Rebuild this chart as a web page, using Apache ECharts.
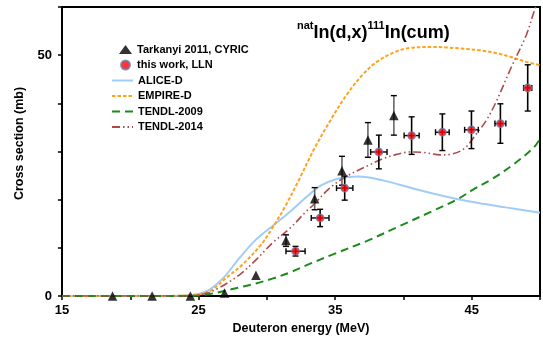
<!DOCTYPE html>
<html>
<head>
<meta charset="utf-8">
<script src="https://cdn.jsdelivr.net/npm/echarts@6/dist/echarts.min.js"></script>
<style>
html,body{margin:0;padding:0;background:#fff;}
#chart{width:543px;height:340px;}
</style>
</head>
<body>
<div id="chart"></div>
<script>
// ---- Data ----
const xTickLabels = [15, 25, 35, 45];
const yTickLabels = [0, 50];

// Tarkanyi 2011, CYRIC: energy (MeV), cross section (mb), error (mb)
const tarkE   = [18.7, 21.6, 24.4, 26.9, 29.2, 31.4, 33.5, 35.5, 37.4, 39.3];
const tarkXS  = [0, 0, 0, 0.6, 4.3, 11.5, 20.2, 26.0, 32.4, 37.5];
const tarkErr = [0, 0, 0, 0, 0, 1.2, 2.3, 3.0, 3.6, 4.1];

// This work, LLN: energy, cross section, energy error, cross-section error
const llnE    = [32.1, 33.9, 35.7, 38.2, 40.6, 42.85, 44.98, 47.1, 49.1];
const llnXS   = [9.3, 16.2, 22.4, 29.9, 33.3, 34.0, 34.5, 35.8, 43.2];
const llnEErr = [0.7, 0.65, 0.6, 0.6, 0.55, 0.5, 0.5, 0.4, 0.3];
const llnXErr = [1.0, 1.8, 2.5, 3.5, 3.9, 3.8, 3.9, 4.1, 4.8];

// ALICE-D
const aliceE  = [15, 22, 23.5, 24.5, 25.2, 25.8, 26.8, 28.0, 29.2, 30.4, 31.7, 33.0, 34.0, 35.0, 36.0, 36.6, 37.5, 38.5, 40.0, 41.0, 42.7, 44.0, 45.5, 47.5, 50];
const aliceXS = [0, 0, 0.05, 0.2, 0.6, 1.3, 3.7, 7.9, 11.7, 14.5, 17.5, 20.8, 23.0, 24.2, 24.7, 24.8, 24.6, 24.0, 22.9, 22.1, 20.9, 20.1, 19.3, 18.4, 17.3];

// EMPIRE-D
const empireE  = [15, 22, 23.5, 24.5, 25.3, 26.0, 27.0, 28.2, 29.5, 30.4, 31.4, 32.4, 33.4, 34.6, 35.8, 37.0, 38.1, 39.5, 40.5, 42.0, 43.2, 44.5, 45.6, 47.0, 48.0, 49.0, 50];
const empireXS = [0, 0, 0.05, 0.2, 0.5, 1.3, 3.7, 6.5, 10.4, 14.1, 18.9, 24.4, 30.2, 36.2, 41.6, 45.9, 48.7, 50.8, 51.5, 51.7, 51.6, 51.3, 51.0, 50.3, 49.5, 48.6, 47.9];

// TENDL-2009
const t09E  = [15, 24, 25, 26, 26.8, 28.0, 29.2, 30.4, 31.7, 33.0, 34.8, 37.3, 39.7, 42.1, 43.9, 45.1, 46.5, 48.0, 49.5, 50];
const t09XS = [0, 0, 0.1, 0.5, 1.0, 1.8, 2.6, 3.6, 4.9, 6.5, 8.6, 11.4, 14.5, 17.6, 20.0, 22.1, 24.3, 27.2, 30.7, 32.6];

// TENDL-2014
const t14E  = [15, 23, 24.5, 25.5, 26.5, 28.0, 29.2, 30.4, 31.7, 32.9, 33.4, 34.6, 35.8, 37.5, 38.5, 39.5, 40.5, 41.5, 42.7, 43.6, 44.5, 45.3, 46.1, 46.8, 47.9, 49.0, 49.5, 50];
const t14XS = [0, 0, 0.1, 0.5, 1.7, 4.4, 7.5, 11.0, 14.1, 17.6, 18.9, 22.4, 24.8, 27.2, 28.5, 29.4, 29.9, 29.8, 29.3, 29.5, 30.7, 33.5, 36.6, 40.4, 47.5, 54.2, 58.5, 62.5];

// ---- Build ----
const zip = (a, b) => a.map((v, i) => [v, b[i]]);
const FONT = '"Liberation Sans", Arial, sans-serif';

function errRender(barColor, capColor) {
  return function (params, api) {
    const x = api.value(0), y = api.value(1), dx = api.value(2), dy = api.value(3);
    const c = api.coord([x, y]);
    const ch = [];
    const cap = 3;
    if (dy > 0) {
      const t = api.coord([x, y + dy]), b = api.coord([x, y - dy]);
      ch.push({type: 'line', shape: {x1: c[0], y1: t[1], x2: c[0], y2: b[1]}, style: {stroke: barColor, lineWidth: 1.6}});
      ch.push({type: 'line', shape: {x1: c[0] - cap, y1: t[1], x2: c[0] + cap, y2: t[1]}, style: {stroke: capColor, lineWidth: 1.4}});
      ch.push({type: 'line', shape: {x1: c[0] - cap, y1: b[1], x2: c[0] + cap, y2: b[1]}, style: {stroke: capColor, lineWidth: 1.4}});
    }
    if (dx > 0) {
      const l = api.coord([x - dx, y]), r = api.coord([x + dx, y]);
      ch.push({type: 'line', shape: {x1: l[0], y1: c[1], x2: r[0], y2: c[1]}, style: {stroke: '#000', lineWidth: 1.4}});
      ch.push({type: 'line', shape: {x1: l[0], y1: c[1] - cap, x2: l[0], y2: c[1] + cap}, style: {stroke: '#000', lineWidth: 1.4}});
      ch.push({type: 'line', shape: {x1: r[0], y1: c[1] - cap, x2: r[0], y2: c[1] + cap}, style: {stroke: '#000', lineWidth: 1.4}});
    }
    return {type: 'group', children: ch};
  };
}

const legendText = {fontFamily: FONT, fontWeight: 'bold', fontSize: 11, color: '#000', lineHeight: 11};
const noSym = {opacity: 0};

const chart = echarts.init(document.getElementById('chart'), null, {renderer: 'canvas'});
const option = {
  animation: false,
  backgroundColor: '#fff',
  title: {
    left: 292, top: 15,
    text: '{sup|nat}{b|In(d,x)}{sup|111}{b|In(cum)}',
    textStyle: {
      rich: {
        b: {fontFamily: FONT, fontWeight: 'bold', fontSize: 18, color: '#000', verticalAlign: 'bottom', lineHeight: 22},
        sup: {fontFamily: FONT, fontWeight: 'bold', fontSize: 11, color: '#000', verticalAlign: 'top', lineHeight: 22, padding: [0, 0, 8, 0]}
      }
    }
  },
  legend: [
    {
      orient: 'vertical', left: 119, top: 44, padding: 0,
      itemWidth: 13, itemHeight: 9, itemGap: 4.5,
      textStyle: legendText,
      data: [
        {name: 'Tarkanyi 2011, CYRIC', icon: 'triangle'},
        {name: 'this work, LLN', icon: 'circle'}
      ]
    },
    {
      orient: 'vertical', left: 111, top: 75, padding: 0,
      itemWidth: 21, itemHeight: 10, itemGap: 4.5,
      textStyle: legendText,
      data: [
        {name: 'ALICE-D', itemStyle: noSym},
        {name: 'EMPIRE-D', itemStyle: noSym},
        {name: 'TENDL-2009', itemStyle: noSym},
        {name: 'TENDL-2014', itemStyle: noSym}
      ]
    }
  ],
  grid: {left: 62, right: 3, top: 7, bottom: 42, show: true, borderColor: '#000', borderWidth: 2, backgroundColor: 'transparent'},
  graphic: [{
    type: 'text', x: 20, y: 143.5, rotation: Math.PI / 2,
    style: {text: 'Cross section (mb)', font: 'bold 12.5px ' + FONT, fill: '#000', align: 'center', verticalAlign: 'middle'}
  }],
  xAxis: {
    type: 'value', min: 15, max: 50, interval: 5,
    name: 'Deuteron energy (MeV)', nameLocation: 'middle', nameGap: 26,
    nameTextStyle: {fontFamily: FONT, fontWeight: 'bold', fontSize: 12.5, color: '#000'},
    axisLine: {onZero: false, lineStyle: {color: '#000', width: 2}},
    axisTick: {inside: false, length: 4, lineStyle: {color: '#000', width: 1.5}},
    axisLabel: {
      margin: 8, color: '#000', fontFamily: FONT, fontWeight: 'bold', fontSize: 13,
      formatter: v => xTickLabels.includes(v) ? String(v) : ''
    },
    splitLine: {show: false}
  },
  yAxis: {
    type: 'value', min: 0, max: 60, interval: 10,
    axisLine: {show: true, lineStyle: {color: '#000', width: 2}},
    axisTick: {show: true, inside: false, length: 4, lineStyle: {color: '#000', width: 1.5}},
    axisLabel: {
      margin: 10, color: '#000', fontFamily: FONT, fontWeight: 'bold', fontSize: 13,
      formatter: v => yTickLabels.includes(v) ? String(v) : ''
    },
    splitLine: {show: false}
  },
  series: [
    {name: 'ALICE-D', type: 'line', data: zip(aliceE, aliceXS), smooth: 0.35, symbol: 'none', z: 2,
     lineStyle: {color: '#9fcdf6', width: 2}, itemStyle: {color: '#9fcdf6'}},
    {name: 'EMPIRE-D', type: 'line', data: zip(empireE, empireXS), smooth: 0.35, symbol: 'none', z: 2,
     lineStyle: {color: '#ffa31a', width: 2, type: [3.5, 2]}, itemStyle: {color: '#ffa31a'}},
    {name: 'TENDL-2009', type: 'line', data: zip(t09E, t09XS), smooth: 0.35, symbol: 'none', z: 2,
     lineStyle: {color: '#1a8c1a', width: 2, type: [8, 5]}, itemStyle: {color: '#1a8c1a'}},
    {name: 'TENDL-2014', type: 'line', data: zip(t14E, t14XS), smooth: 0.35, symbol: 'none', z: 2,
     lineStyle: {color: '#b04a4a', width: 1.6, type: [8, 3, 1.5, 3, 1.5, 3]}, itemStyle: {color: '#b04a4a'}},
    {name: 'tarkErr', type: 'custom', z: 3, renderItem: errRender('#666', '#000'),
     encode: {x: 0, y: 1}, data: tarkE.map((e, i) => [e, tarkXS[i], 0, tarkErr[i]])},
    {name: 'llnErr', type: 'custom', z: 3, renderItem: errRender('#000', '#000'),
     encode: {x: 0, y: 1}, data: llnE.map((e, i) => [e, llnXS[i], llnEErr[i], llnXErr[i]])},
    {name: 'Tarkanyi 2011, CYRIC', type: 'scatter', z: 4, symbol: 'triangle', symbolSize: 9.5,
     itemStyle: {color: '#000'}, data: zip(tarkE, tarkXS)},
    {name: 'this work, LLN', type: 'scatter', z: 4, symbol: 'circle', symbolSize: 7.5,
     itemStyle: {color: '#ff0000', borderColor: '#6a7fb0', borderWidth: 1.3}, data: zip(llnE, llnXS)}
  ]
};
chart.setOption(option);
</script>
</body>
</html>
